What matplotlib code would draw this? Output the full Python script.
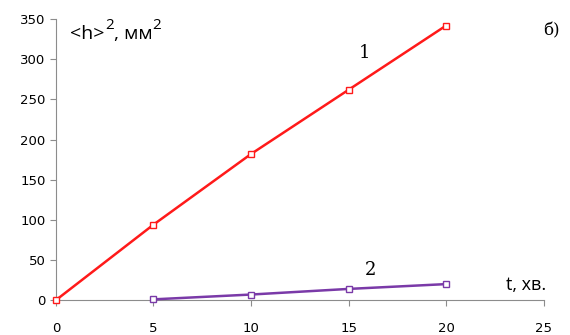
import matplotlib
matplotlib.use("Agg")
import matplotlib.pyplot as plt

# values
t1 = [0, 5, 10, 15, 20]
h1 = [0, 94, 182, 262, 342]
t2 = [5, 10, 15, 20]
h2 = [1, 7, 14, 20]
xticks = [0, 5, 10, 15, 20, 25]
yticks = [0, 50, 100, 150, 200, 250, 300, 350]

fig = plt.figure(figsize=(5.7, 3.35), dpi=100)
ax = fig.add_axes([0.098, 0.104, 0.856, 0.839])

ax.plot(t1, h1, color='#ff1a1a', lw=1.8, marker='s', ms=5, mfc='white', mec='#ff1a1a', mew=1, clip_on=False, zorder=3)
ax.plot(t2, h2, color='#7a3aa8', lw=1.8, marker='s', ms=5, mfc='white', mec='#7a3aa8', mew=1, clip_on=False, zorder=3)

ax.set_xlim(0, 25)
ax.set_ylim(0, 350)
ax.set_xticks(xticks)
ax.set_yticks(yticks)
for s in ['top', 'right']:
    ax.spines[s].set_visible(False)
for s in ['left', 'bottom']:
    ax.spines[s].set_color('#8c8c8c')
ax.tick_params(colors='#8c8c8c', labelcolor='black', labelsize=9.5, length=4, direction='out')
ax.tick_params(axis='x', pad=12)

# y label built from pieces so the superscripts are big like in the source
f = dict(family='Open Sans')
p1 = ax.text(0.75, 331, '<h>', fontsize=14, va='center', **f)
p2 = ax.annotate('2', xy=(1.0, 0.55), xycoords=p1, fontsize=11, va='bottom', ha='left', **f)
p3 = ax.annotate(', мм', xy=(1.0, 0.0), xycoords=(p2, p1), fontsize=14, va='bottom', ha='left', **f)
ax.annotate('2', xy=(1.0, 0.55), xycoords=p3, fontsize=11, va='bottom', ha='left', **f)

ax.text(15.8, 308, '1', fontsize=13, family='DejaVu Serif', ha='center', va='center')
ax.text(16.1, 37, '2', fontsize=13, family='DejaVu Serif', ha='center', va='center')
ax.text(24.1, 19, 't, хв.', fontsize=13, family='Open Sans', ha='center', va='center')
ax.text(25.4, 335, 'б)', fontsize=12, family='DejaVu Serif', ha='center', va='center', clip_on=False)

fig.savefig('out.png', dpi=100)
